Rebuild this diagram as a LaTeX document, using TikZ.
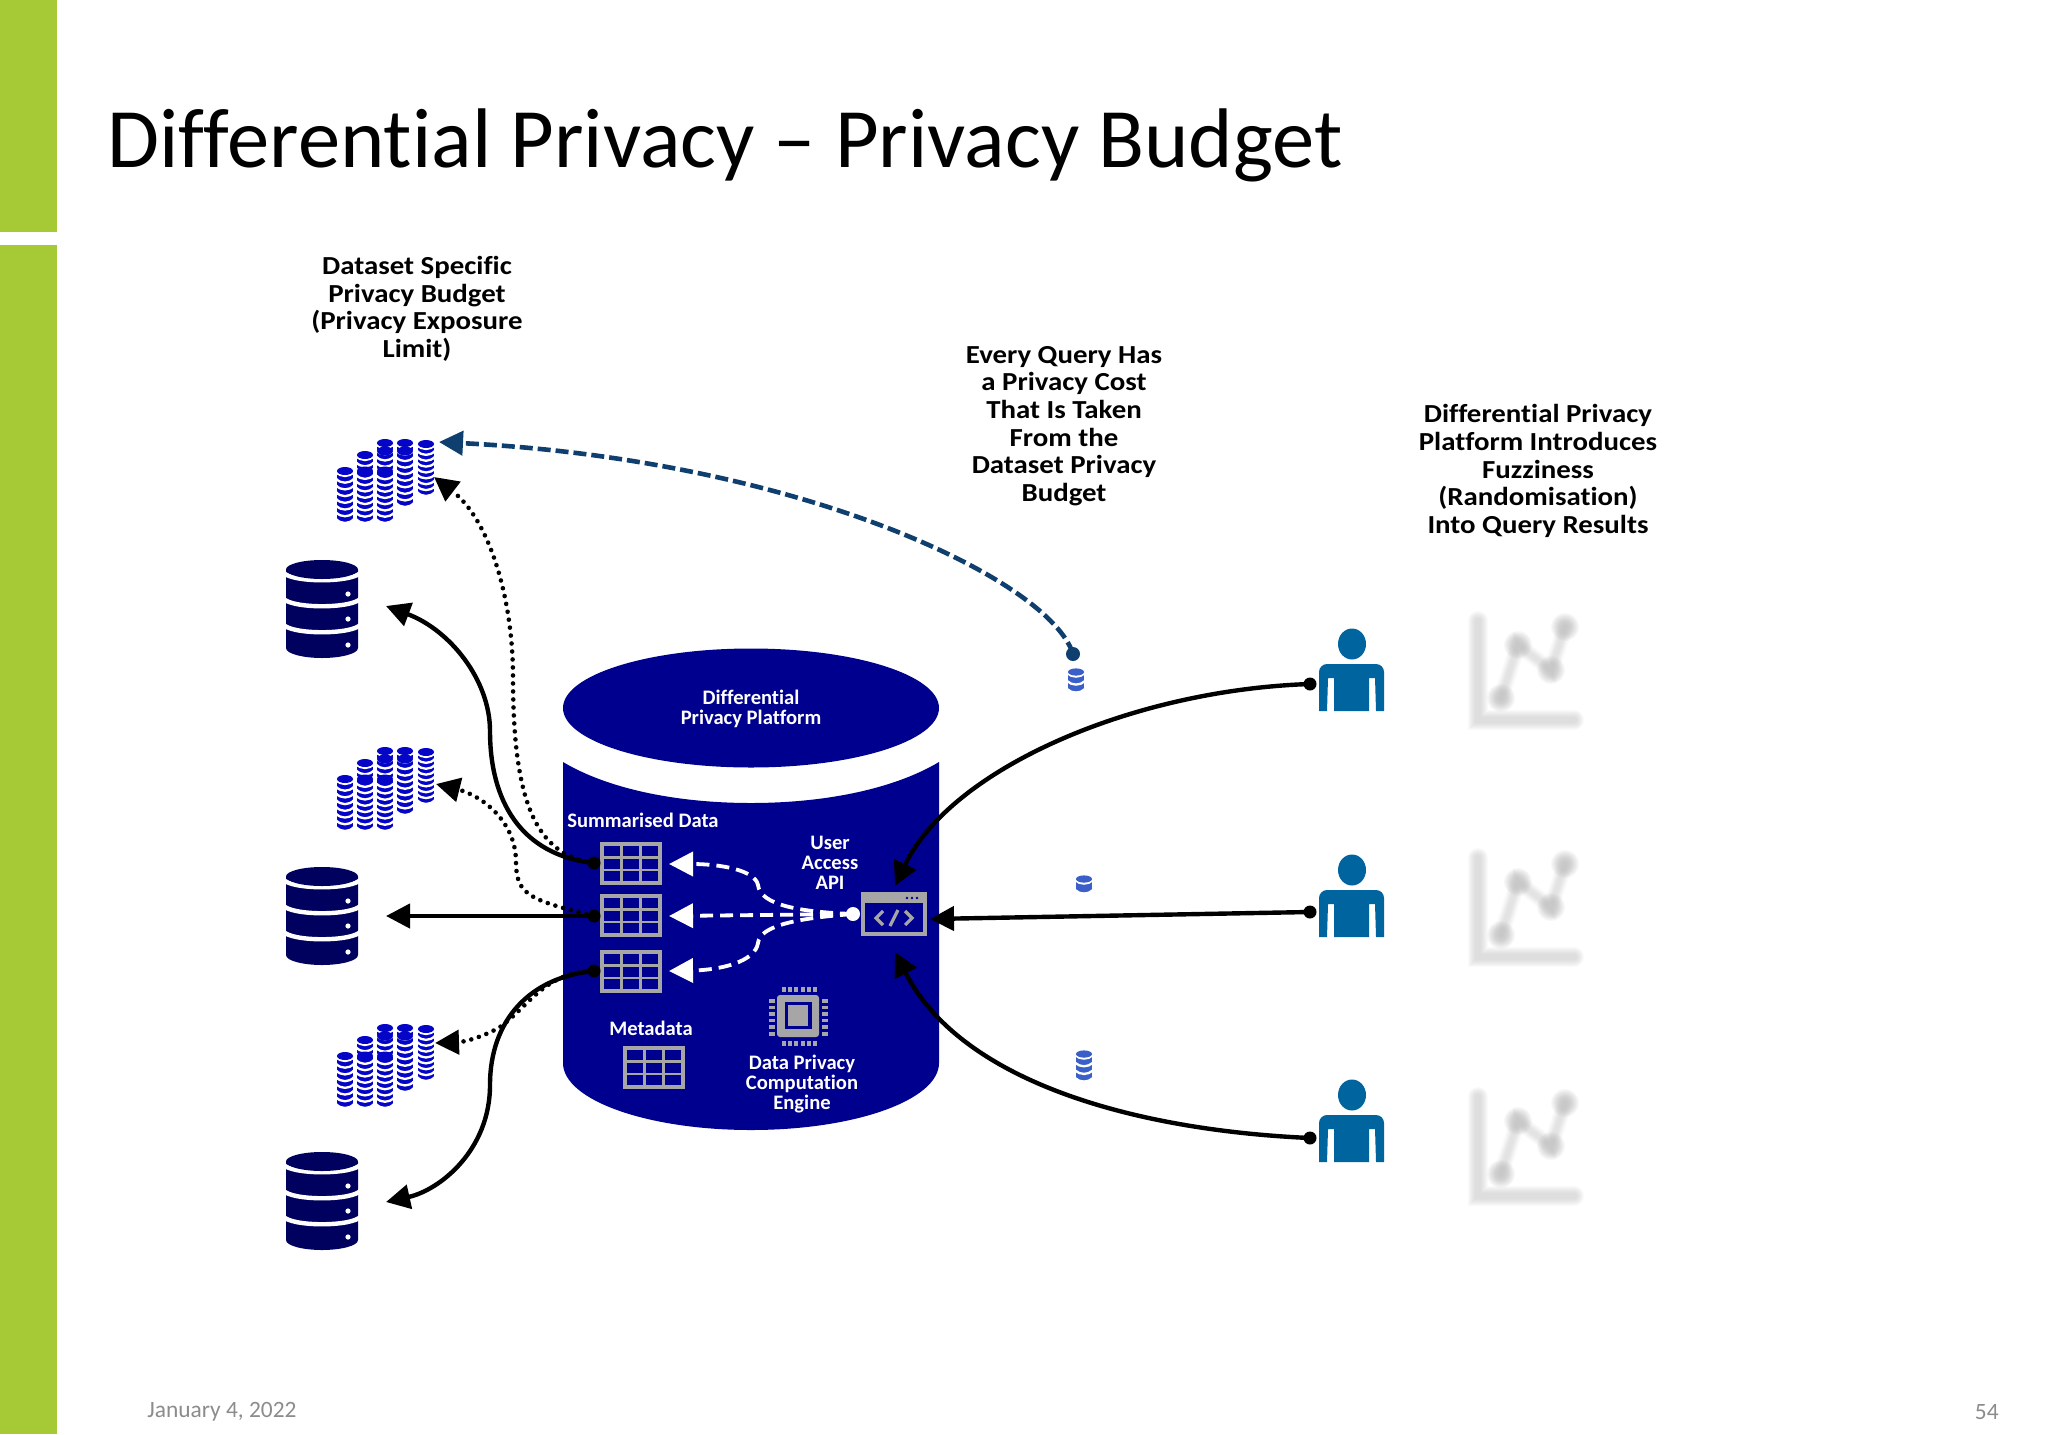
\documentclass[tikz,border=0pt]{standalone}
\usepackage{fontspec}
\setmainfont[Ligatures=CommonOff]{Carlito}
\newfontfamily\notefont[FakeStretch=1.11,Ligatures=CommonOff]{Carlito}
\usetikzlibrary{arrows.meta}
\definecolor{barGreen}{HTML}{A6CA35}
\definecolor{cylBlue}{HTML}{00008F}
\definecolor{dbNavy}{HTML}{00005F}
\definecolor{coinBlue}{HTML}{0505C8}
\definecolor{smallCoin}{HTML}{3A5FC8}
\definecolor{personBlue}{HTML}{00659E}
\definecolor{linkNavy}{HTML}{0F3F6E}
\definecolor{iconGrey}{HTML}{A6A6A6}
\definecolor{footGrey}{HTML}{8C8C8C}
\definecolor{blurGrey}{HTML}{B8B8B8}
\newcommand\coincol[7]{%
  \fill[#7] (#1-#5,#2) rectangle (#1+#5,#3);
  \fill[#7] (#1,#3) ellipse [x radius=#5,y radius=#6];
  \foreach \i in {0,...,#4}{%
    \pgfmathsetmacro\yy{#2+(#3-#2)*\i/#4+1}
    \draw[white,line width=1.15pt] (#1-#5-1,\yy) .. controls (#1-#5/2,\yy+#6*1.33) and (#1+#5/2,\yy+#6*1.33) .. (#1+#5+1,\yy);
  }
  \fill[#7] (#1,#2) ellipse [x radius=#5,y radius=#6];
}
\tikzset{
  x=0.5pt,y=-0.5pt,
  titletext/.style={font=\fontsize{42.3}{50}\selectfont,anchor=base west,inner sep=0pt},
  headnote/.style={font=\notefont\bfseries\fontsize{13}{13.8}\selectfont,align=center,inner sep=0pt,text=black},
  whitenote/.style={font=\bfseries\fontsize{10.3}{10}\selectfont,align=center,inner sep=0pt,text=white},
  foot/.style={font=\fontsize{11.7}{14}\selectfont,text=footGrey,inner sep=0pt},
  tip/.style={-{Triangle[length=12pt,width=12pt]}},
  blackdot/.style={circle,fill=black,inner sep=0pt,minimum size=6.5pt},
  solidlink/.style={tip,draw=black,line width=2.2pt},
  dottedlink/.style={tip,draw=black,line width=2.3pt,line cap=round,dash pattern=on 0pt off 4pt},
  navylink/.style={tip,draw=linkNavy,line width=2.3pt,dash pattern=on 6.5pt off 2.5pt},
  whitelink/.style={tip,draw=white,line width=1.9pt,dash pattern=on 6.5pt off 3.5pt},
  gridtable/.pic={
    \fill[iconGrey] (0,0) rectangle (62,43);
    \foreach \cx in {4,23,42}{\foreach \cy in {4,16.5,29}{
      \fill[cylBlue] (\cx,\cy) rectangle ++(16,10);}}
  },
  coinbank/.pic={
    \coincol{345}{471}{518}{7}{8}{4}{coinBlue}
    \coincol{365}{455}{518}{10}{8}{4}{coinBlue}
    \coincol{385}{443}{518}{12}{8}{4}{coinBlue}
    \coincol{405}{443}{502}{9}{8}{4}{coinBlue}
    \coincol{426}{444}{491}{8}{8}{4}{coinBlue}
    \fill[coinBlue] (365,471) ellipse [x radius=8,y radius=4.5];
    \fill[coinBlue] (385,471) ellipse [x radius=8,y radius=4.5];
    \fill[coinBlue] (385,451) ellipse [x radius=8,y radius=4.5];
    \fill[coinBlue] (405,451) ellipse [x radius=8,y radius=4.5];
  },
  dbicon/.pic={
    \fill[dbNavy] (286,570) -- (286,648) .. controls (286,654) and (304,658) .. (322,658) .. controls (340,658) and (358,654) .. (358,648) -- (358,570) -- cycle;
    \foreach \ay in {570,596,622}{
      \draw[white,line width=2.2pt] (283,\ay+2) .. controls (290,\ay+13) and (354,\ay+13) .. (361,\ay+2);
    }
    \fill[dbNavy] (322,569.5) ellipse [x radius=36,y radius=9.5];
    \foreach \dy in {594,619,645}{\fill[white] (348,\dy) circle [radius=2.6];}
  },
  personicon/.pic={
    \fill[personBlue] (1352,644) ellipse [x radius=14,y radius=15.5];
    \fill[personBlue] (1319,711) [rounded corners=4pt] -- (1319,664) -- (1384,664) [sharp corners] -- (1384,711) -- (1376,711) -- (1375,678) -- (1369,678) -- (1369,711) -- (1334,711) -- (1334,678) -- (1328,678) -- (1327,711) -- cycle;
  },
  blurchart/.pic={
    \foreach \wa/\wb/\rr in {10/8/14,9/7/13,8/6/12,7/5/11,6/4.5/10,5/3.5/9,4/3/8,3/2/6.5}{
      \draw[blurGrey,opacity=.065,line width=\wa pt,line cap=round] (1478,621) -- (1478,720) -- (1574,720);
      \draw[blurGrey,opacity=.05,line width=\wb pt,line cap=round] (1501,698) -- (1518,645) -- (1551,670) -- (1565,627);
      \fill[blurGrey,opacity=.09] (1501,698) circle [radius=\rr];
      \fill[blurGrey,opacity=.09] (1518,645) circle [radius=\rr];
      \fill[blurGrey,opacity=.09] (1551,670) circle [radius=\rr];
      \fill[blurGrey,opacity=.09] (1565,627) circle [radius=\rr];
    }
  },
}
\begin{document}
\begin{tikzpicture}
\useasboundingbox (0,0) rectangle (2048,1434);
\fill[white] (0,0) rectangle (2048,1434);
% side bar
\fill[barGreen] (0,0) rectangle (57,232);
\fill[barGreen] (0,245) rectangle (57,1434);
% title, footer
\node[titletext] (title) at (107,167) {Differential Privacy – Privacy Budget};
\node[foot,anchor=west] (date) at (147,1412) {January 4, 2022};
\node[foot,anchor=east] (page) at (1999,1412) {54};
% notes
\node[headnote] (n1) at (417,309) {Dataset Specific\\Privacy Budget\\(Privacy Exposure\\Limit)};
\node[headnote] (n2) at (1064,426) {Every Query Has\\a Privacy Cost\\That Is Taken\\From the\\Dataset Privacy\\Budget};
\node[headnote] (n3) at (1538,471) {Differential Privacy\\Platform Introduces\\Fuzziness\\(Randomisation)\\Into Query Results};
% cylinder
\fill[cylBlue] (751,708) ellipse [x radius=188,y radius=59.5];
\fill[cylBlue] (563,762) .. controls (610,790) and (680,803) .. (751,803) .. controls (822,803) and (892,790) .. (939,762) -- (939,1063) .. controls (939,1100) and (855,1130) .. (751,1130) .. controls (647,1130) and (563,1100) .. (563,1063) -- cycle;
\node[whitenote] (cyl) at (751,709) {Differential\\Privacy Platform};
\node[whitenote,anchor=west] (sum) at (567,820) {Summarised Data};
\node[whitenote] (api) at (830,863) {User\\Access\\API};
\node[whitenote] (meta) at (651,1028) {Metadata};
\node[whitenote] (eng) at (802,1084) {Data Privacy\\Computation\\Engine};
% tables
\pic (tab1) at (600,842) {gridtable};
\pic (tab2) at (600,894) {gridtable};
\pic (tab3) at (600,950) {gridtable};
\pic (tab4) at (623,1046) {gridtable};
% API window
\fill[iconGrey] (861,892) rectangle (927,936);
\fill[cylBlue] (865,903) rectangle (923,932);
\foreach \px in {907,912,917}{\fill[cylBlue] (\px,898) circle [radius=1.4];}
\draw[iconGrey,line width=1.6pt] (883,911) -- (876,918) -- (883,925);
\draw[iconGrey,line width=1.6pt] (905,911) -- (912,918) -- (905,925);
\draw[iconGrey,line width=1.6pt] (898,910) -- (890,926);
% chip
\fill[iconGrey,rounded corners=1.5pt] (777,995) rectangle (819,1037);
\fill[cylBlue] (785,1002) rectangle (812,1029);
\fill[iconGrey] (788,1005) rectangle (808,1026);
\foreach \pp in {0,1,2,3,4,5}{
  \fill[iconGrey] (782+\pp*6.2,987) rectangle ++(4,5);
  \fill[iconGrey] (782+\pp*6.2,1041) rectangle ++(4,5);
  \fill[iconGrey] (769,999+\pp*6.6) rectangle ++(6,3.6);
  \fill[iconGrey] (822,999+\pp*6.6) rectangle ++(6,3.6);
}
% coins, databases, users, blurred charts
\pic (bank1) at (0,0) {coinbank};
\pic (bank2) at (0,308) {coinbank};
\pic (bank3) at (0,585) {coinbank};
\pic (db1) at (0,0) {dbicon};
\pic (db2) at (0,307) {dbicon};
\pic (db3) at (0,592) {dbicon};
\pic (user1) at (0,0) {personicon};
\pic (user2) at (0,226) {personicon};
\pic (user3) at (0,451) {personicon};
\pic (chart1) at (0,0) {blurchart};
\pic (chart2) at (0,237) {blurchart};
\pic (chart3) at (0,476) {blurchart};
\coincol{1076}{672}{688}{2}{8}{3.6}{smallCoin}
\coincol{1084}{879}{889}{1}{8}{3.6}{smallCoin}
\coincol{1084}{1054}{1077}{3}{8}{3.6}{smallCoin}
% connector ends
\node[blackdot] (tabdot1) at (594,863) {};
\node[blackdot] (tabdot2) at (594,916) {};
\node[blackdot] (tabdot3) at (594,971) {};
\node[blackdot] (udot1) at (1310,684) {};
\node[blackdot] (udot2) at (1310,912) {};
\node[blackdot] (udot3) at (1310,1138) {};
\node[circle,fill=white,inner sep=0pt,minimum size=7pt] (apidot) at (853,914) {};
\node[circle,fill=linkNavy,inner sep=0pt,minimum size=7pt] (costdot) at (1073,654) {};
\coordinate (tipBudget) at (439,442);
\coordinate (tipBank1) at (434,477);
\coordinate (tipBank2) at (436,784);
\coordinate (tipBank3) at (435,1043);
\coordinate (tipDb1) at (386,606);
\coordinate (tipDb2) at (386,916);
\coordinate (tipDb3) at (386,1202);
\coordinate (tipApiA) at (895,886);
\coordinate (tipApiB) at (930,919);
\coordinate (tipApiC) at (895,952);
\coordinate (tipTab1) at (669,864);
\coordinate (tipTab2) at (669,916);
\coordinate (tipTab3) at (669,971);
% connectors
\draw[navylink] (costdot.center) .. controls (1050,580) and (800,460) .. (tipBudget);
\draw[dottedlink] (tabdot1.center) .. controls (535,855) and (513,800) .. (513,677) .. controls (513,600) and (490,520) .. (tipBank1);
\draw[dottedlink] (tabdot2.center) .. controls (530,900) and (516,895) .. (516,862) .. controls (516,820) and (480,795) .. (tipBank2);
\draw[dottedlink] (tabdot3.center) .. controls (545,972) and (530,1005) .. (500,1027) .. controls (485,1036) and (465,1042) .. (tipBank3);
\draw[solidlink] (tabdot1.center) .. controls (520,855) and (490,800) .. (490,731) .. controls (490,680) and (450,630) .. (tipDb1);
\draw[solidlink] (tabdot2.center) -- (tipDb2);
\draw[solidlink] (tabdot3.center) .. controls (530,977) and (490,1020) .. (490,1085) .. controls (490,1150) and (440,1190) .. (tipDb3);
\draw[solidlink] (udot1.center) .. controls (1130,690) and (950,770) .. (tipApiA);
\draw[solidlink] (udot2.center) -- (tipApiB);
\draw[solidlink] (udot3.center) .. controls (1130,1130) and (960,1080) .. (tipApiC);
\draw[whitelink] (apidot.center) .. controls (800,912) and (760,905) .. (758,885) .. controls (755,870) and (720,864) .. (tipTab1);
\draw[whitelink] (apidot.center) -- (tipTab2);
\draw[whitelink] (apidot.center) .. controls (800,918) and (760,925) .. (758,943) .. controls (755,962) and (720,970) .. (tipTab3);
\end{tikzpicture}
\end{document}
